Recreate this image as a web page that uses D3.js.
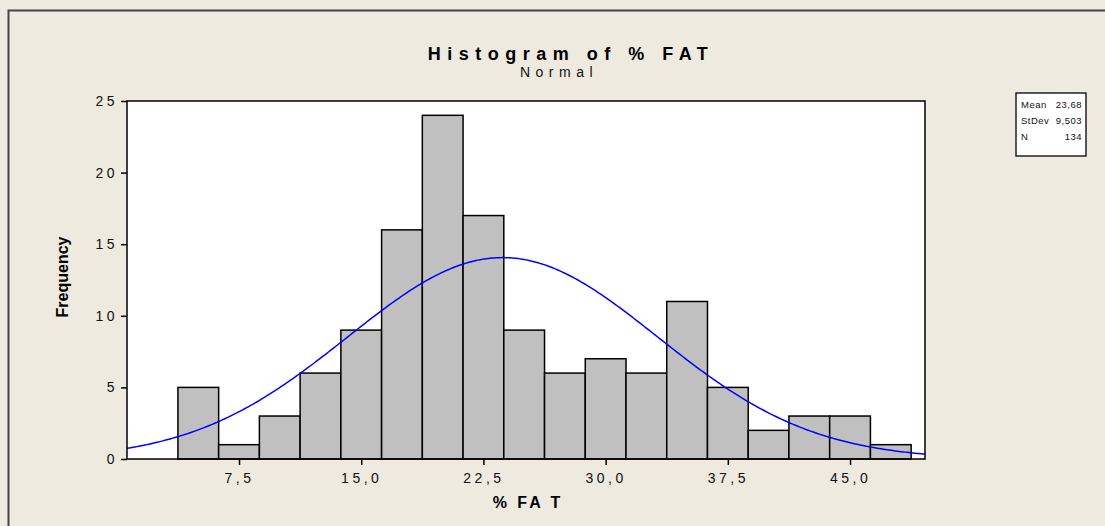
<!DOCTYPE html>
<html>
<head>
<meta charset="utf-8">
<title>Histogram of % FAT</title>
<script src="https://cdn.jsdelivr.net/npm/d3@7"></script>
<style>
body { margin: 0; background: #eeeae0; font-family: "Liberation Sans", Arial, sans-serif; }
.tick text { font-family: "Liberation Sans", Arial, sans-serif; }
</style>
</head>
<body>
<script>
// bin midpoints (width 2.5) and counts
var binMids = [5, 7.5, 10, 12.5, 15, 17.5, 20, 22.5, 25, 27.5, 30, 32.5, 35, 37.5, 40, 42.5, 45, 47.5];
var counts  = [5, 1, 3, 6, 9, 16, 24, 17, 9, 6, 7, 6, 11, 5, 2, 3, 3, 1];
var binWidth = 2.5;
var xTicks = [7.5, 15, 22.5, 30, 37.5, 45];
var yTicks = [0, 5, 10, 15, 20, 25];
var statLabels = ["Mean", "StDev", "N"];
var statValues = ["23,68", "9,503", "134"];
var mean = 23.68, sd = 9.503, n = 134;

const width = 1105, height = 526;
var svg = d3.select("body").append("svg")
  .attr("width", width).attr("height", height);

svg.append("rect").attr("width", width).attr("height", height).attr("fill", "#eeeae0");
// window frame, top and left edges only
svg.append("path").attr("d", "M8.5,526 V10.5 H1105")
  .attr("fill", "none").attr("stroke", "#444").attr("stroke-width", 2);

var plot = {left: 127, right: 925, top: 101, bottom: 459};
var x = d3.scaleLinear().domain([0.625, 49.6]).range([plot.left, plot.right]);
var y = d3.scaleLinear().domain([0, 25]).range([plot.bottom, plot.top]);

svg.append("rect")
  .attr("x", plot.left).attr("y", plot.top)
  .attr("width", plot.right - plot.left).attr("height", plot.bottom - plot.top)
  .attr("fill", "#fff");

// bars
svg.append("g").selectAll("rect")
  .data(binMids)
  .enter().append("rect")
  .attr("x", function(d) { return x(d - binWidth / 2); })
  .attr("width", function(d) { return x(d + binWidth / 2) - x(d - binWidth / 2); })
  .attr("y", function(d, i) { return y(counts[i]); })
  .attr("height", function(d, i) { return y(0) - y(counts[i]); })
  .attr("fill", "#c0c0c0").attr("stroke", "#000").attr("stroke-width", 1.5);

// fitted normal curve from the stats shown in the box
var curvePts = d3.range(0, 401).map(function(i) {
  var v = x.domain()[0] + (x.domain()[1] - x.domain()[0]) * i / 400;
  var f = n * binWidth / (sd * Math.sqrt(2 * Math.PI)) * Math.exp(-0.5 * Math.pow((v - mean) / sd, 2));
  return [v, f];
});
svg.append("path").datum(curvePts)
  .attr("d", d3.line().x(function(d) { return x(d[0]); }).y(function(d) { return y(d[1]); }))
  .attr("fill", "none").attr("stroke", "#0000ff").attr("stroke-width", 1.5);

// frame
svg.append("rect")
  .attr("x", plot.left).attr("y", plot.top)
  .attr("width", plot.right - plot.left).attr("height", plot.bottom - plot.top)
  .attr("fill", "none").attr("stroke", "#000").attr("stroke-width", 1.5);

var fmt = function(d) { return d3.format(".1f")(d).replace(".", ","); };

var xAxis = svg.append("g").attr("transform", "translate(0," + plot.bottom + ")")
  .call(d3.axisBottom(x).tickValues(xTicks).tickSize(6).tickPadding(8).tickFormat(fmt));
var yAxis = svg.append("g").attr("transform", "translate(" + plot.left + ",0)")
  .call(d3.axisLeft(y).tickValues(yTicks).tickSize(6).tickPadding(6));
[xAxis, yAxis].forEach(function(a) {
  a.select(".domain").remove();
  a.selectAll(".tick line").attr("stroke", "#000").attr("stroke-width", 1.5);
  a.selectAll(".tick text").attr("font-size", 14).attr("fill", "#111")
    .style("letter-spacing", "3.5px");
});
yAxis.selectAll(".tick text").attr("dx", 3);

svg.append("text").attr("x", 571).attr("y", 60).attr("text-anchor", "middle")
  .attr("font-size", 18).attr("font-weight", "bold").style("letter-spacing", "6.5px")
  .text("Histogram of % FAT");
svg.append("text").attr("x", 559).attr("y", 77).attr("text-anchor", "middle")
  .attr("font-size", 14).style("letter-spacing", "5.5px").attr("fill", "#111")
  .text("Normal");

svg.append("text").attr("x", 528).attr("y", 508).attr("text-anchor", "middle")
  .attr("font-size", 16).attr("font-weight", "bold").style("letter-spacing", "3px")
  .text("% FA T");
svg.append("text").attr("transform", "translate(68,277) rotate(-90)")
  .attr("text-anchor", "middle").attr("font-size", 16).attr("font-weight", "bold")
  .text("Frequency");

// stats box
var box = svg.append("g");
box.append("rect").attr("x", 1016).attr("y", 93).attr("width", 70).attr("height", 63)
  .attr("fill", "#fff").attr("stroke", "#000").attr("stroke-width", 1.3);
statLabels.forEach(function(s, i) {
  box.append("text").attr("x", 1021).attr("y", 108 + i * 16)
    .attr("font-size", 9.5).style("letter-spacing", "0.5px").attr("fill", "#111").text(s);
  box.append("text").attr("x", 1082).attr("y", 108 + i * 16).attr("text-anchor", "end")
    .attr("font-size", 9.5).style("letter-spacing", "0.5px").attr("fill", "#111").text(statValues[i]);
});
</script>
</body>
</html>
